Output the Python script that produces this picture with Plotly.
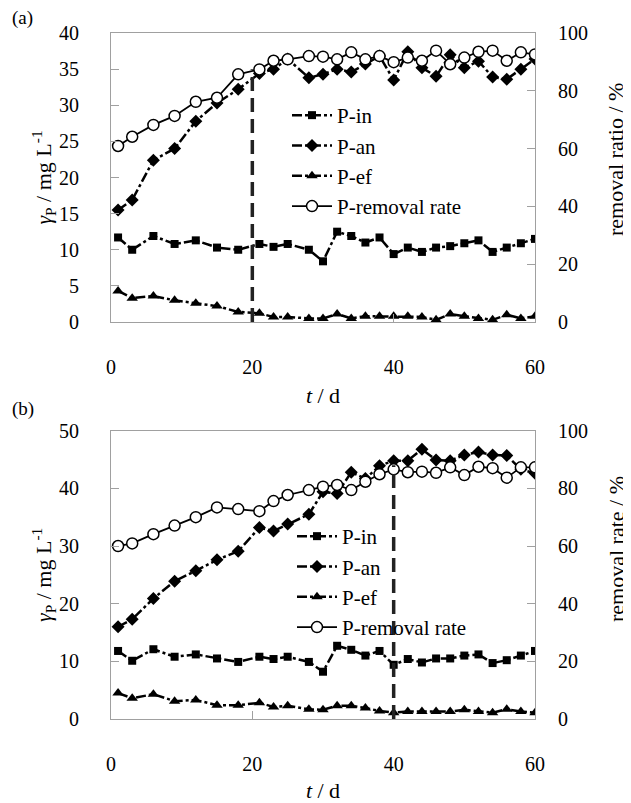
import plotly.graph_objects as go

# ---------------- data ----------------
days = [1, 3, 6, 9, 12, 15, 18, 21, 23, 25, 28, 30, 32, 34, 36, 38, 40, 42, 44, 46, 48, 50, 52, 54, 56, 58, 60]

a_in = [11.7, 10.0, 11.9, 10.8, 11.3, 10.3, 10.0, 10.8, 10.4, 10.8, 10.0, 8.4, 12.5, 11.9, 11.0, 11.7, 9.4, 10.3, 9.7, 10.3, 10.5, 10.9, 11.3, 9.7, 10.3, 10.9, 11.5]
a_an = [15.5, 16.9, 22.4, 24.0, 27.8, 30.3, 32.2, 34.4, 35.0, 36.4, 33.8, 34.3, 35.0, 34.6, 35.7, 36.8, 33.5, 37.4, 35.2, 34.0, 37.0, 35.2, 36.1, 33.9, 33.6, 35.0, 36.4]
a_ef = [4.3, 3.3, 3.6, 3.0, 2.6, 2.2, 1.4, 1.2, 0.7, 0.7, 0.5, 0.5, 1.1, 0.5, 0.8, 0.8, 0.8, 0.8, 0.7, 0.3, 1.1, 0.8, 0.5, 0.3, 1.0, 0.5, 0.8]
a_rr = [60.9, 64.1, 68.2, 71.3, 76.2, 77.6, 85.7, 87.4, 90.4, 90.9, 92.0, 91.8, 90.9, 93.3, 90.9, 92.0, 89.9, 91.5, 90.4, 93.9, 89.2, 91.5, 93.5, 93.9, 90.4, 93.3, 92.6]

b_in = [11.8, 10.1, 12.1, 10.8, 11.2, 10.5, 9.9, 10.8, 10.4, 10.8, 9.9, 8.2, 12.7, 12.0, 11.0, 11.8, 9.4, 10.4, 9.8, 10.5, 10.5, 11.0, 11.2, 9.7, 10.2, 11.0, 11.8]
b_an = [16.0, 17.3, 20.9, 23.9, 25.7, 27.6, 29.1, 33.2, 32.6, 33.8, 35.5, 39.4, 39.1, 42.8, 41.7, 43.9, 44.8, 44.8, 46.8, 44.9, 44.8, 45.8, 46.3, 45.8, 45.7, 43.3, 42.6]
b_ef = [4.5, 3.6, 4.3, 3.1, 3.3, 2.4, 2.4, 2.8, 2.1, 2.3, 1.7, 1.6, 2.3, 2.3, 1.9, 1.4, 1.1, 1.3, 1.3, 1.3, 1.3, 1.6, 1.3, 1.1, 1.7, 1.3, 1.1]
b_rr = [60.0, 60.9, 64.1, 67.1, 70.0, 73.4, 72.8, 72.1, 75.6, 77.7, 79.4, 80.6, 81.2, 79.4, 82.3, 84.9, 86.6, 85.6, 85.8, 85.4, 87.3, 84.6, 87.5, 87.0, 83.7, 87.3, 87.3]

series_names = ["P-in", "P-an", "P-ef", "P-removal rate"]
a_cut = (20, 35)   # day, top value of dashed marker line (a)
b_cut = (40, 44)   # day, top value of dashed marker line (b)

x_ticks = [0, 20, 40, 60]
a_left_ticks = [0, 5, 10, 15, 20, 25, 30, 35, 40]
b_left_ticks = [0, 10, 20, 30, 40, 50]
right_ticks = [0, 20, 40, 60, 80, 100]

# ---------------- layout helpers ----------------
OFF = 8                       # default page body margin
W, H = 631 - OFF, 803 - OFF   # figure size so the page fits the window
def fx(p): return (p - OFF) / W          # window pixel -> paper fraction
def fy(p): return 1 - (p - OFF) / H

FONT = "Liberation Serif, DejaVu Serif"
GREY = "#a0a0a0"
DASHDOT = "10px,3px,3px,3px"

fig = go.Figure()

def add_panel(vals, xa, ya_l, ya_r, legend):
    ins, an, ef, rr = vals
    common = dict(x=days, xaxis=xa, legend=legend, showlegend=True)
    fig.add_trace(go.Scatter(name=series_names[0], y=ins, yaxis=ya_l, mode="lines+markers",
                             line=dict(color="black", width=2.5, dash=DASHDOT),
                             marker=dict(symbol="square", size=8, color="black"), **common))
    fig.add_trace(go.Scatter(name=series_names[1], y=an, yaxis=ya_l, mode="lines+markers",
                             line=dict(color="black", width=2.5, dash=DASHDOT),
                             marker=dict(symbol="diamond", size=10, color="black"), **common))
    fig.add_trace(go.Scatter(name=series_names[2], y=ef, yaxis=ya_l, mode="lines+markers",
                             line=dict(color="black", width=2.5, dash=DASHDOT),
                             marker=dict(symbol="triangle-up", size=10, color="black"), **common))
    fig.add_trace(go.Scatter(name=series_names[3], y=rr, yaxis=ya_r, mode="lines+markers",
                             line=dict(color="black", width=1.8),
                             marker=dict(symbol="circle", size=11, color="white",
                                         line=dict(color="black", width=1.5)), **common))

add_panel((a_in, a_an, a_ef, a_rr), "x", "y", "y2", "legend")
add_panel((b_in, b_an, b_ef, b_rr), "x2", "y3", "y4", "legend2")

xdom = [fx(111), fx(535)]
a_dom = [fy(322), fy(33)]
b_dom = [fy(719), fy(430.7)]

tickfont = dict(family=FONT, size=20, color="black")
titlefont = dict(family=FONT, size=22, color="black")

def xax(anchor):
    return dict(domain=xdom, anchor=anchor, range=[0, 60], tickvals=x_ticks, automargin=False,
                showgrid=False, zeroline=False, showline=True, linecolor=GREY, linewidth=1,
                mirror=True, ticks="inside", ticklen=8, tickcolor=GREY,
                tickfont=tickfont, ticklabelstandoff=27,
                title=dict(text="<i>t</i> / d", font=titlefont, standoff=10))

def yl(anchor, dom, rng, tv):
    return dict(domain=dom, anchor=anchor, range=rng, tickvals=tv, automargin=False,
                showgrid=False, zeroline=False, showline=True, linecolor=GREY, linewidth=1,
                ticks="inside", ticklen=8, tickcolor=GREY,
                tickfont=tickfont, ticklabelstandoff=27,
                title=dict(text="<i>γ</i><sub>P</sub> / mg L<sup>-1</sup>", font=titlefont, standoff=0))

def yr(anchor, over):
    return dict(anchor=anchor, overlaying=over, side="right", range=[0, 100], tickvals=right_ticks,
                automargin=False,
                showgrid=False, zeroline=False, showline=True, linecolor=GREY, linewidth=1,
                ticks="inside", ticklen=8, tickcolor=GREY,
                tickfont=tickfont, ticklabelstandoff=18)

leg_common = dict(font=dict(family=FONT, size=21, color="black"), bgcolor="rgba(0,0,0,0)",
                  xanchor="left", yanchor="top", itemwidth=40, tracegroupgap=0)

fig.update_layout(
    width=W, height=H, margin=dict(l=0, r=0, t=0, b=0, autoexpand=False),
    paper_bgcolor="white", plot_bgcolor="white",
    font=dict(family=FONT, color="black"),
    xaxis=xax("y"), xaxis2=xax("y3"),
    yaxis=yl("x", a_dom, [0, 40], a_left_ticks),
    yaxis2=yr("x", "y"),
    yaxis3=yl("x2", b_dom, [0, 50], b_left_ticks),
    yaxis4=yr("x2", "y3"),
    legend=dict(x=fx(287), y=fy(95), **leg_common),
    legend2=dict(x=fx(292), y=fy(516), **leg_common),
    shapes=[
        dict(type="line", xref="x", yref="y", x0=a_cut[0], x1=a_cut[0], y0=0, y1=a_cut[1],
             line=dict(color="#222", width=3.5, dash="14px,7px"), layer="above"),
        dict(type="line", xref="x2", yref="y3", x0=b_cut[0], x1=b_cut[0], y0=0, y1=b_cut[1],
             line=dict(color="#222", width=3.5, dash="14px,7px"), layer="above"),
    ],
    annotations=[
        dict(text="(a)", xref="paper", yref="paper", x=fx(10), y=fy(18), xanchor="left", yanchor="middle",
             showarrow=False, font=dict(family=FONT, size=19, color="black")),
        dict(text="(b)", xref="paper", yref="paper", x=fx(10), y=fy(409), xanchor="left", yanchor="middle",
             showarrow=False, font=dict(family=FONT, size=19, color="black")),
        dict(text="removal ratio / %", xref="paper", yref="paper", x=fx(616), y=fy(160),
             xanchor="center", yanchor="middle", textangle=-90, showarrow=False, font=titlefont),
        dict(text="removal rate / %", xref="paper", yref="paper", x=fx(616), y=fy(549),
             xanchor="center", yanchor="middle", textangle=-90, showarrow=False, font=titlefont),
    ],
)

fig.write_html("out.html")
